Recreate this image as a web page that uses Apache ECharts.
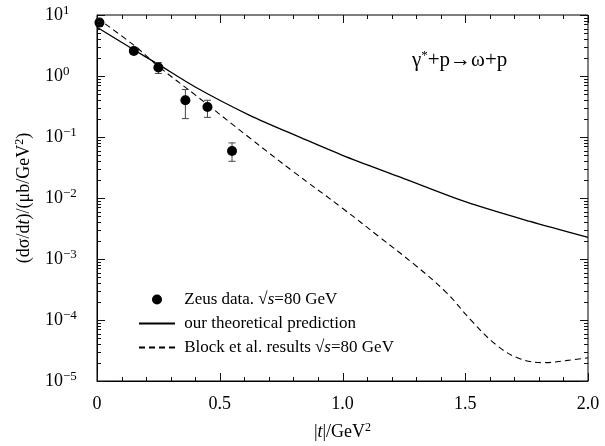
<!DOCTYPE html>
<html>
<head>
<meta charset="utf-8">
<script src="https://cdn.jsdelivr.net/npm/echarts@6/dist/echarts.min.js"></script>
<style>html,body{margin:0;padding:0;background:#fff;}#c{width:605px;height:446px;}</style>
</head>
<body>
<div id="c"></div>
<script>
// ---- data ----
const tData = [0.01, 0.15, 0.25, 0.36, 0.45, 0.55];
const sigmaData = [7.5, 2.58, 1.38, 0.40, 0.31, 0.059];
const errLow = [7.5, 2.58, 1.10, 0.20, 0.21, 0.040];
const errHigh = [7.5, 2.58, 1.66, 0.60, 0.40, 0.080];

const tTheory = [0, 0.15, 0.25, 0.4, 0.62, 0.83, 1.0, 1.23, 1.5, 1.76, 2.0];
const sigmaTheory = [6.31, 2.69, 1.55, 0.661, 0.229, 0.0977, 0.0501, 0.0224, 0.00871, 0.00417, 0.00226];

const tBlock = [0, 0.15, 0.25, 0.4, 0.62, 0.8, 1.0, 1.15, 1.29, 1.42, 1.53, 1.63, 1.72, 1.82, 1.91, 2.0];
const sigmaBlock = [8.9, 3.2, 1.44, 0.49, 0.098, 0.027, 0.0068, 0.0023, 0.00083, 0.00029, 0.000093, 0.000038, 0.0000234, 0.00002, 0.0000216, 0.000024];

const xTickLabels = ['0', '0.5', '1.0', '1.5', '2.0'];
const yExponents = ['\u22125', '\u22124', '\u22123', '\u22122', '\u22121', '0', '1'];

const seriesNames = ['Zeus data. \u221As=80 GeV', 'our theoretical prediction', 'Block et al. results \u221As=80 GeV'];
const legendRich = [
  ' Zeus data. \u221A{i|s}=80 GeV',
  ' our theoretical prediction',
  ' Block et al. results \u221A{i|s}=80 GeV'
];

// ---- tick positions (axis decoration): [x value, y value, kind (0 = x, 1 = y), length] ----
const tickSpecs = [];
for (let i = 0; i <= 20; i++) tickSpecs.push([i / 10, 1, 0, i % 5 === 0 ? 8 : 4]);
for (let d = -5; d <= 1; d++) {
  tickSpecs.push([1, Math.pow(10, d), 1, 8]);
  if (d < 1) for (let m = 2; m <= 9; m++) tickSpecs.push([1, m * Math.pow(10, d), 1, 4]);
}

// ---- chart ----
const FONT = '"Liberation Serif", "Times New Roman", serif';
const zip = (a, b) => a.map((v, i) => [v, b[i]]);
const chart = echarts.init(document.getElementById('c'), null, {renderer: 'canvas'});
const black = {color: '#000', width: 1};
const richSup = {
  i: {fontStyle: 'italic', fontFamily: FONT, fontSize: 18, color: '#000'},
  sup: {fontSize: 12, fontFamily: FONT, color: '#000', padding: [0, 0, 8, 0]}
};
const annotation = {
  id: 'reaction', type: 'text', left: 412, top: 49, z: 50,
  style: {
    text: '\u03B3{sup|*}+p\u2192\u03C9+p',
    font: '21px ' + FONT, fill: '#000',
    rich: {sup: {fontSize: 13, fontFamily: FONT, fill: '#000', padding: [0, 0, 9, 0]}}
  }
};

const option = {
  animation: false,
  grid: {left: 97, right: 17, top: 15, bottom: 64, show: true, borderColor: '#000', borderWidth: 1},
  xAxis: {
    type: 'value', min: 0, max: 2, interval: 0.5,
    axisLine: {show: true, onZero: false, lineStyle: black},
    axisTick: {show: false}, minorTick: {show: false},
    splitLine: {show: false}, minorSplitLine: {show: false},
    axisLabel: {
      show: true, margin: 14, color: '#000', fontFamily: FONT, fontSize: 18,
      formatter: v => xTickLabels[Math.round(v / 0.5)]
    },
    name: '|{i|t}|/GeV{sup|2}', nameLocation: 'middle', nameGap: 41,
    nameTextStyle: {color: '#000', fontFamily: FONT, fontSize: 18, rich: richSup}
  },
  yAxis: {
    type: 'log', logBase: 10, min: 1e-5, max: 10,
    axisLine: {show: true, lineStyle: black},
    axisTick: {show: false}, minorTick: {show: false},
    splitLine: {show: false}, minorSplitLine: {show: false},
    axisLabel: {
      show: true, align: 'left', margin: 52, color: '#000',
      formatter: v => '{b|10}{s|' + yExponents[Math.round(Math.log10(v)) + 5] + '}',
      rich: {
        b: {fontFamily: FONT, fontSize: 18, color: '#000'},
        s: {fontFamily: FONT, fontSize: 13, color: '#000', padding: [0, 0, 9, 0]}
      }
    },
    name: '(d\u03C3/d{i|t})/(\u03BCb/GeV{sup|2})', nameLocation: 'middle', nameRotate: 90, nameGap: 63,
    nameTextStyle: {color: '#000', fontFamily: FONT, fontSize: 18, rich: richSup}
  },
  legend: {
    orient: 'vertical', left: 133, top: 286,
    itemWidth: 36, itemHeight: 10, itemGap: 7,
    data: [
      {name: seriesNames[0], icon: 'circle'},
      {name: seriesNames[1], itemStyle: {opacity: 0}},
      {name: seriesNames[2], itemStyle: {opacity: 0}}
    ],
    formatter: name => legendRich[seriesNames.indexOf(name)],
    textStyle: {
      color: '#000', fontFamily: FONT, fontSize: 17, lineHeight: 17,
      rich: {i: {fontStyle: 'italic', fontFamily: FONT, fontSize: 17, color: '#000'}}
    }
  },
  graphic: [annotation],
  series: [
    {
      name: seriesNames[0], type: 'scatter',
      data: zip(tData, sigmaData), symbol: 'circle', symbolSize: 10,
      itemStyle: {color: '#000', opacity: 1}, z: 5
    },
    {
      name: 'err', type: 'custom',
      data: tData.map((t, i) => [t, errLow[i], errHigh[i]]),
      encode: {x: 0, y: [1, 2]},
      renderItem: (params, api) => {
        const lo = api.coord([api.value(0), api.value(1)]);
        const hi = api.coord([api.value(0), api.value(2)]);
        const w = 3.5;
        const es = {stroke: '#444', lineWidth: 1};
        return {type: 'group', children: [
          {type: 'line', shape: {x1: lo[0], y1: lo[1], x2: hi[0], y2: hi[1]}, style: es},
          {type: 'line', shape: {x1: lo[0] - w, y1: lo[1], x2: lo[0] + w, y2: lo[1]}, style: es},
          {type: 'line', shape: {x1: hi[0] - w, y1: hi[1], x2: hi[0] + w, y2: hi[1]}, style: es}
        ]};
      },
      z: 4
    },
    {
      name: seriesNames[1], type: 'line',
      data: zip(tTheory, sigmaTheory), smooth: 0.3, showSymbol: false, symbol: 'none',
      lineStyle: {color: '#000', width: 1.3, type: 'solid'}, itemStyle: {color: '#000'}
    },
    {
      name: seriesNames[2], type: 'line',
      data: zip(tBlock, sigmaBlock), smooth: 0.4, showSymbol: false, symbol: 'none',
      lineStyle: {color: '#000', width: 1.1, type: [6, 4]}, itemStyle: {color: '#000'}
    }
  ]
};
chart.setOption(option);

// ---- ticks: positioned through the chart's own axis scales ----
try {
  const gx = v => chart.convertToPixel({xAxisIndex: 0}, v);
  const gy = v => chart.convertToPixel({yAxisIndex: 0}, v);
  const xL = gx(0), xR = gx(2), yB = gy(1e-5), yT = gy(10);
  const tickEls = [];
  const ts = {stroke: '#111', lineWidth: 1};
  tickSpecs.forEach((spec, k) => {
    const len = spec[3];
    if (spec[2] === 0) {
      const px = Math.round(gx(spec[0])) + 0.5;
      tickEls.push({id: 'tb' + k, type: 'line', silent: true, z: 100, shape: {x1: px, y1: yB, x2: px, y2: yB - len}, style: ts});
      tickEls.push({id: 'tt' + k, type: 'line', silent: true, z: 100, shape: {x1: px, y1: yT, x2: px, y2: yT + len}, style: ts});
    } else {
      const py = Math.round(gy(spec[1])) + 0.5;
      tickEls.push({id: 'tl' + k, type: 'line', silent: true, z: 100, shape: {x1: xL, y1: py, x2: xL + len, y2: py}, style: ts});
      tickEls.push({id: 'tr' + k, type: 'line', silent: true, z: 100, shape: {x1: xR, y1: py, x2: xR - len, y2: py}, style: ts});
    }
  });
  chart.setOption({graphic: [annotation].concat(tickEls)});
} catch (e) { /* ticks are decoration only */ }
</script>
</body>
</html>
